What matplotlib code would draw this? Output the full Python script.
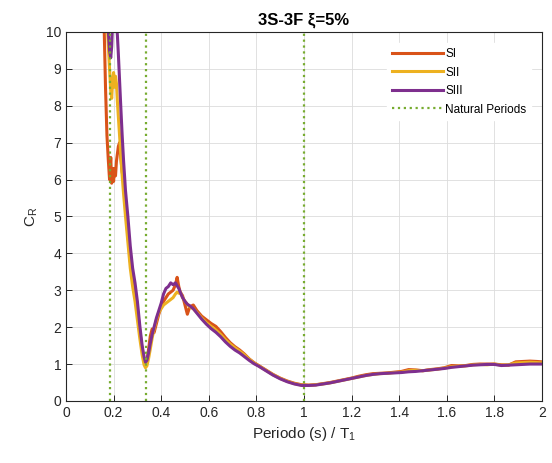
import numpy as np
import matplotlib.pyplot as plt

plt.rcParams['font.family'] = ['Liberation Sans', 'DejaVu Sans']

# period ratio T/T1 (shared by the three records)
periodo = [0.15, 0.16, 0.166, 0.172, 0.178, 0.183, 0.188, 0.192, 0.196, 0.2,
           0.204, 0.208, 0.212, 0.216, 0.22, 0.225, 0.23, 0.236, 0.242, 0.25,
           0.26, 0.27, 0.28, 0.29, 0.3, 0.31, 0.32, 0.328, 0.334, 0.34,
           0.347, 0.354, 0.362, 0.37, 0.38, 0.39, 0.4, 0.41, 0.42, 0.43,
           0.44, 0.45, 0.46, 0.467, 0.474, 0.48, 0.49, 0.5, 0.51, 0.52,
           0.535, 0.55, 0.57, 0.59, 0.61, 0.63, 0.65, 0.67, 0.69, 0.71,
           0.73, 0.75, 0.77, 0.79, 0.81, 0.84, 0.87, 0.9, 0.93, 0.96,
           0.99, 1.02, 1.05, 1.08, 1.11, 1.14, 1.17, 1.2, 1.23, 1.26,
           1.29, 1.32, 1.35, 1.38, 1.41, 1.44, 1.47, 1.5, 1.53, 1.56,
           1.59, 1.62, 1.65, 1.68, 1.71, 1.74, 1.77, 1.8, 1.83, 1.86,
           1.89, 1.92, 1.95, 1.98, 2.0]

cr_SI = [15, 10.2, 8.5, 7.2, 6.5, 6.0, 6.6, 5.9, 6.3, 5.95,
         6.3, 6.1, 6.5, 6.7, 6.9, 7.0, 6.6, 6.2, 6.0, 5.3,
         4.5, 3.8, 3.3, 3.0, 2.5, 1.9, 1.4, 1.1, 1.0, 1.1,
         1.4, 1.75, 1.95, 1.85, 2.1, 2.35, 2.55, 2.7, 2.8, 2.9,
         2.95, 3.0, 3.15, 3.35, 3.1, 2.95, 2.85, 2.6, 2.35, 2.55,
         2.6, 2.45, 2.3, 2.2, 2.1, 2.02, 1.88, 1.72, 1.58, 1.47,
         1.38, 1.27, 1.14, 1.04, 0.96, 0.84, 0.72, 0.62, 0.54, 0.48,
         0.44, 0.43, 0.44, 0.47, 0.5, 0.54, 0.58, 0.62, 0.67, 0.71,
         0.74, 0.75, 0.76, 0.78, 0.8, 0.85, 0.84, 0.82, 0.85, 0.87,
         0.9, 0.96, 0.95, 0.96, 0.99, 1.0, 1.0, 1.0, 0.98, 0.97,
         1.06, 1.07, 1.08, 1.07, 1.06]

cr_SII = [15, 13, 11.5, 10.4, 9.6, 9.0, 8.4, 8.2, 8.7, 8.9,
          8.5, 8.8, 8.6, 8.1, 7.7, 7.2, 6.7, 6.1, 5.6, 5.0,
          4.3, 3.6, 3.1, 2.7, 2.2, 1.7, 1.25, 0.98, 0.9, 0.95,
          1.15, 1.4, 1.7, 1.95, 2.2, 2.4, 2.5, 2.6, 2.65, 2.7,
          2.75, 2.8, 2.9, 2.95, 2.92, 2.95, 2.8, 2.7, 2.62, 2.55,
          2.5, 2.4, 2.25, 2.12, 2.02, 1.92, 1.8, 1.66, 1.54, 1.44,
          1.35, 1.25, 1.13, 1.03, 0.95, 0.83, 0.71, 0.61, 0.53, 0.47,
          0.43, 0.42, 0.44, 0.46, 0.49, 0.53, 0.57, 0.61, 0.65, 0.69,
          0.72, 0.74, 0.75, 0.77, 0.78, 0.82, 0.83, 0.82, 0.84, 0.86,
          0.89, 0.93, 0.94, 0.95, 0.98, 0.99, 0.98, 1.0, 0.97, 0.98,
          1.03, 1.04, 1.05, 1.04, 1.03]

cr_SIII = [15, 13.5, 12, 10.8, 10.0, 9.5, 9.3, 9.6, 10.3, 10.8,
           10.9, 10.6, 10.3, 9.9, 9.4, 8.7, 8.0, 7.2, 6.5, 5.7,
           5.0, 4.2, 3.6, 3.2, 2.7, 2.05, 1.5, 1.2, 1.05, 1.1,
           1.3, 1.55, 1.8, 2.0, 2.25, 2.45, 2.65, 2.9, 3.05, 3.1,
           3.2, 3.15, 3.2, 3.12, 3.05, 2.95, 2.8, 2.7, 2.62, 2.58,
           2.5, 2.38, 2.22, 2.08, 1.96, 1.86, 1.74, 1.6, 1.48, 1.38,
           1.3, 1.2, 1.1, 1.01, 0.94, 0.82, 0.7, 0.6, 0.52, 0.46,
           0.42, 0.42, 0.43, 0.46, 0.49, 0.53, 0.57, 0.61, 0.65, 0.69,
           0.72, 0.74, 0.75, 0.76, 0.77, 0.79, 0.8, 0.82, 0.84, 0.86,
           0.88, 0.91, 0.93, 0.95, 0.97, 0.98, 0.99, 0.99, 0.96, 0.97,
           0.98, 0.99, 1.0, 1.0, 1.0]

natural_periods = [0.186, 0.337, 1.0]

fig = plt.figure(figsize=(5.52, 4.63), dpi=100)
ax = fig.add_axes([0.1196, 0.134, 0.862, 0.797])

ax.plot(periodo, cr_SI, color='#D95319', lw=2.2, label='SI')
ax.plot(periodo, cr_SII, color='#EDB120', lw=2.2, label='SII')
ax.plot(periodo, cr_SIII, color='#7E2F8E', lw=2.2, label='SIII')
for i, tp in enumerate(natural_periods):
    ax.axvline(tp, color='#77AC30', ls=':', lw=1.6,
               label='Natural Periods' if i == 0 else None)

ax.set_xlim(0, 2)
ax.set_ylim(0, 10)
ax.set_xticks(np.arange(0, 2.01, 0.2))
ax.set_xticklabels(['0', '0.2', '0.4', '0.6', '0.8', '1', '1.2', '1.4', '1.6', '1.8', '2'])
ax.set_yticks(range(0, 11))
ax.grid(True, color='#dcdcdc', lw=0.6)
ax.set_axisbelow(True)
ax.tick_params(direction='in', length=4, width=0.7, colors='#262626', labelsize=10)
for s in ax.spines.values():
    s.set_color('#262626')
    s.set_linewidth(0.8)

ax.set_title('3S-3F ξ=5%', fontsize=12, fontweight='bold', pad=5)
ax.set_xlabel('Periodo (s) / T$_\\mathregular{1}$', fontsize=11, color='#262626')
ax.set_ylabel('C$_\\mathregular{R}$', fontsize=11, color='#262626')

leg = ax.legend(loc='upper right', bbox_to_anchor=(0.99, 0.985), fontsize=8.5,
                frameon=True, fancybox=False, edgecolor='white', framealpha=1,
                handlelength=4.3, handletextpad=0.2, labelspacing=0.55)

fig.savefig('out.png', dpi=100)
